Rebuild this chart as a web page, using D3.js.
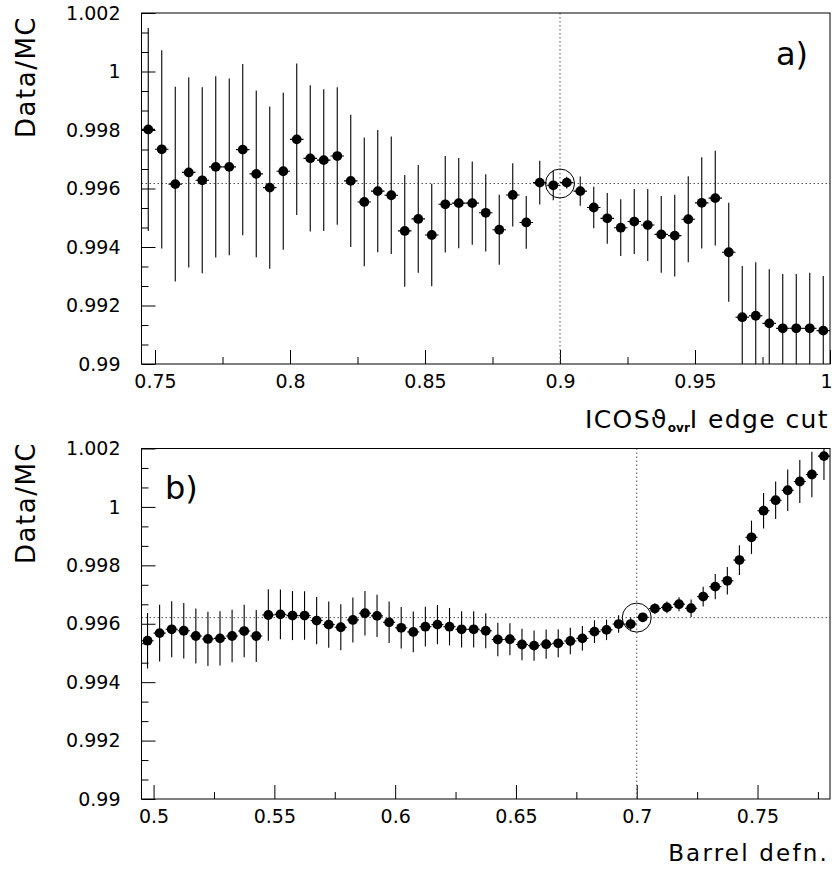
<!DOCTYPE html>
<html>
<head>
<meta charset="utf-8">
<script src="https://cdn.jsdelivr.net/npm/d3@7"></script>
<style>
  body { margin: 0; background: #fff; }
  svg { display: block; }
</style>
</head>
<body>
<svg id="chart" width="832" height="870"></svg>
<script>
// ---- panel a): Data/MC versus the |cos theta_ovr| edge cut ----
const edgeCut = [
  0.7475, 0.7525, 0.7575, 0.7625, 0.7675, 0.7725, 0.7775, 0.7825, 0.7875, 0.7925,
  0.7975, 0.8025, 0.8075, 0.8125, 0.8175, 0.8225, 0.8275, 0.8325, 0.8375, 0.8425,
  0.8475, 0.8525, 0.8575, 0.8625, 0.8675, 0.8725, 0.8775, 0.8825, 0.8875, 0.8925,
  0.8975, 0.9025, 0.9075, 0.9125, 0.9175, 0.9225, 0.9275, 0.9325, 0.9375, 0.9425,
  0.9475, 0.9525, 0.9575, 0.9625, 0.9675, 0.9725, 0.9775, 0.9825, 0.9875, 0.9925,
  0.9975
];
const edgeRatio = [
  0.99802, 0.99734, 0.99615, 0.99655, 0.99628, 0.99674, 0.99674, 0.99733, 0.99650, 0.99603,
  0.99659, 0.99768, 0.99703, 0.99697, 0.99711, 0.99626, 0.99554, 0.99591, 0.99577, 0.99455,
  0.99496, 0.99441, 0.99546, 0.99550, 0.99550, 0.99517, 0.99459, 0.99578, 0.99484, 0.99620,
  0.99611, 0.99620, 0.99591, 0.99535, 0.99498, 0.99466, 0.99487, 0.99475, 0.99443, 0.99439,
  0.99495, 0.99551, 0.99567, 0.99382, 0.99160, 0.99165, 0.99139, 0.99122, 0.99122, 0.99122,
  0.99114
];
const edgeErr = [
  0.00347, 0.00339, 0.00333, 0.00325, 0.00318, 0.00310, 0.00302, 0.00293, 0.00285, 0.00277,
  0.00268, 0.00259, 0.00250, 0.00242, 0.00235, 0.00226, 0.00220, 0.00209, 0.00201, 0.00191,
  0.00184, 0.00175, 0.00165, 0.00154, 0.00142, 0.00132, 0.00120, 0.00108, 0.00090, 0.00075,
  0.00051, 0.00020, 0.00050, 0.00071, 0.00087, 0.00097, 0.00111, 0.00123, 0.00131, 0.00140,
  0.00147, 0.00156, 0.00162, 0.00169, 0.00175, 0.00183, 0.00185, 0.00186, 0.00186, 0.00190,
  0.00187
];

// ---- panel b): Data/MC versus the barrel definition ----
const barrelDef = [
  0.4975, 0.5025, 0.5075, 0.5125, 0.5175, 0.5225, 0.5275, 0.5325, 0.5375, 0.5425,
  0.5475, 0.5525, 0.5575, 0.5625, 0.5675, 0.5725, 0.5775, 0.5825, 0.5875, 0.5925,
  0.5975, 0.6025, 0.6075, 0.6125, 0.6175, 0.6225, 0.6275, 0.6325, 0.6375, 0.6425,
  0.6475, 0.6525, 0.6575, 0.6625, 0.6675, 0.6725, 0.6775, 0.6825, 0.6875, 0.6925,
  0.6975, 0.7025, 0.7075, 0.7125, 0.7175, 0.7225, 0.7275, 0.7325, 0.7375, 0.7425,
  0.7475, 0.7525, 0.7575, 0.7625, 0.7675, 0.7725, 0.7775
];
const barrelRatio = [
  0.99542, 0.99568, 0.99581, 0.99576, 0.99558, 0.99548, 0.99550, 0.99558, 0.99575, 0.99558,
  0.99630, 0.99632, 0.99628, 0.99628, 0.99611, 0.99597, 0.99588, 0.99613, 0.99636, 0.99627,
  0.99605, 0.99586, 0.99572, 0.99590, 0.99597, 0.99590, 0.99581, 0.99581, 0.99576, 0.99546,
  0.99547, 0.99529, 0.99525, 0.99530, 0.99533, 0.99541, 0.99550, 0.99573, 0.99579, 0.99599,
  0.99599, 0.99622, 0.99652, 0.99656, 0.99667, 0.99653, 0.99693, 0.99727, 0.99747, 0.99818,
  0.99896, 0.99987, 1.00023, 1.00057, 1.00087, 1.00111, 1.00174
];
const barrelErr = [
  0.00095, 0.00097, 0.00096, 0.00095, 0.00094, 0.00093, 0.00093, 0.00090, 0.00090, 0.00089,
  0.00088, 0.00085, 0.00084, 0.00083, 0.00081, 0.00079, 0.00079, 0.00077, 0.00076, 0.00072,
  0.00071, 0.00071, 0.00070, 0.00068, 0.00067, 0.00064, 0.00062, 0.00062, 0.00060, 0.00057,
  0.00055, 0.00054, 0.00052, 0.00050, 0.00048, 0.00045, 0.00042, 0.00039, 0.00035, 0.00030,
  0.00022, 0.00015, 0.00018, 0.00020, 0.00024, 0.00030, 0.00034, 0.00043, 0.00047, 0.00051,
  0.00057, 0.00061, 0.00064, 0.00071, 0.00074, 0.00078, 0.00082
];

// ---- axes ----
const yTicks = [0.99, 0.992, 0.994, 0.996, 0.998, 1.0, 1.002];
const yTickLabels = ["0.99", "0.992", "0.994", "0.996", "0.998", "1", "1.002"];
const edgeTicks = [0.75, 0.8, 0.85, 0.9, 0.95, 1.0];
const edgeTickLabels = ["0.75", "0.8", "0.85", "0.9", "0.95", "1"];
const edgeMinor = [0.775, 0.825, 0.875, 0.925, 0.975];
const barrelTicks = [0.5, 0.55, 0.6, 0.65, 0.7, 0.75];
const barrelTickLabels = ["0.5", "0.55", "0.6", "0.65", "0.7", "0.75"];
const barrelMinor = [0.525, 0.575, 0.625, 0.675, 0.725, 0.775];

// chosen working points and the reference ratio
const edgeChosen = 0.9, edgeRef = 0.99617;
const barrelChosen = 0.7, barrelRef = 0.99621;
const binHalf = 0.0025;

const svg = d3.select("#chart");
const FONT = "'DejaVu Sans', sans-serif";
const LEFT = 141.5, RIGHT = 830;

// y minor ticks: three subdivisions per 0.002
const yMinor = d3.range(0, 19).filter(i => i % 3 !== 0).map(i => 0.99 + i * 0.002 / 3);

function drawPanel(p) {
  const x = d3.scaleLinear().domain(p.xDomain).range([LEFT, RIGHT]);
  const y = d3.scaleLinear().domain([0.99, 1.002]).range([p.bottom, p.top]);
  const g = svg.append("g");

  const clipId = "clip-" + p.id;
  svg.append("clipPath").attr("id", clipId)
    .append("rect")
    .attr("x", LEFT).attr("y", p.top)
    .attr("width", RIGHT - LEFT).attr("height", p.bottom - p.top);

  // y axis: minor and major ticks pointing inward
  g.append("g").attr("transform", `translate(${LEFT},0)`)
    .call(d3.axisLeft(y).tickValues(yMinor).tickSize(-7).tickFormat(""))
    .call(a => a.select(".domain").remove());
  const ya = g.append("g").attr("transform", `translate(${LEFT},0)`)
    .call(d3.axisLeft(y).tickValues(yTicks).tickSize(-14).tickPadding(21)
      .tickFormat((d, i) => yTickLabels[i]))
    .call(a => a.select(".domain").remove());
  ya.selectAll("text").attr("font-family", FONT).attr("font-size", 19).attr("fill", "#000");

  // x axis
  g.append("g").attr("transform", `translate(0,${p.bottom})`)
    .call(d3.axisBottom(x).tickValues(p.minor).tickSize(-7).tickFormat(""))
    .call(a => a.select(".domain").remove());
  const xa = g.append("g").attr("transform", `translate(0,${p.bottom})`)
    .call(d3.axisBottom(x).tickValues(p.ticks).tickSize(-14).tickPadding(11)
      .tickFormat((d, i) => p.tickLabels[i]))
    .call(a => a.select(".domain").remove());
  xa.selectAll("text").attr("font-family", FONT).attr("font-size", 19).attr("fill", "#000");
  // a label sitting on the right frame edge is kept inside the page
  xa.selectAll(".tick").filter(d => x(d) > RIGHT - 4)
    .select("text").attr("text-anchor", "end").attr("x", 2);
  g.selectAll(".tick line").attr("stroke", "#000");

  // reference lines through the chosen point
  const refG = g.append("g").attr("clip-path", `url(#${clipId})`)
    .attr("stroke", "#555").attr("stroke-width", 1).attr("stroke-dasharray", "1.5,2.5");
  refG.append("line")
    .attr("x1", LEFT).attr("x2", RIGHT)
    .attr("y1", y(p.ref)).attr("y2", y(p.ref));
  refG.append("line")
    .attr("x1", x(p.chosen)).attr("x2", x(p.chosen))
    .attr("y1", p.top).attr("y2", p.bottom);

  // data points with error bars
  const data = p.xs.map((v, i) => ({ x: v, y: p.ys[i], e: p.es[i] }));
  const pts = g.append("g").attr("clip-path", `url(#${clipId})`);
  pts.selectAll("line.ey").data(data).join("line")
    .attr("class", "ey")
    .attr("x1", d => x(d.x)).attr("x2", d => x(d.x))
    .attr("y1", d => y(d.y - d.e)).attr("y2", d => y(d.y + d.e))
    .attr("stroke", "#000").attr("stroke-width", 1.1);
  pts.selectAll("line.ex").data(data).join("line")
    .attr("class", "ex")
    .attr("x1", d => x(d.x - binHalf)).attr("x2", d => x(d.x + binHalf))
    .attr("y1", d => y(d.y)).attr("y2", d => y(d.y))
    .attr("stroke", "#000").attr("stroke-width", 1.1);
  pts.selectAll("circle").data(data).join("circle")
    .attr("cx", d => x(d.x)).attr("cy", d => y(d.y)).attr("r", 4.9)
    .attr("fill", "#000");

  // circle marking the chosen working point
  g.append("circle")
    .attr("cx", x(p.chosen)).attr("cy", y(p.ref)).attr("r", 14.5)
    .attr("fill", "none").attr("stroke", "#000").attr("stroke-width", 1);

  // frame
  g.append("rect")
    .attr("x", LEFT).attr("y", p.top)
    .attr("width", RIGHT - LEFT).attr("height", p.bottom - p.top)
    .attr("fill", "none").attr("stroke", "#000").attr("stroke-width", 1);

  // y title
  svg.append("text")
    .attr("transform", `translate(35,${p.yTitleEnd}) rotate(-90)`)
    .attr("text-anchor", "end")
    .attr("font-family", FONT).attr("font-size", 26).attr("letter-spacing", 1.5)
    .text("Data/MC");

  // panel tag
  svg.append("text")
    .attr("x", p.tagX).attr("y", p.tagY)
    .attr("font-family", FONT).attr("font-size", 32)
    .text(p.tag);

  return { x, y };
}

drawPanel({
  id: "a", top: 13, bottom: 364, xDomain: [0.745, 1.0],
  ticks: edgeTicks, tickLabels: edgeTickLabels, minor: edgeMinor,
  xs: edgeCut, ys: edgeRatio, es: edgeErr,
  chosen: edgeChosen, ref: edgeRef,
  yTitleEnd: 16, tag: "a)", tagX: 776, tagY: 65
});

drawPanel({
  id: "b", top: 448.5, bottom: 799, xDomain: [0.495, 0.78],
  ticks: barrelTicks, tickLabels: barrelTickLabels, minor: barrelMinor,
  xs: barrelDef, ys: barrelRatio, es: barrelErr,
  chosen: barrelChosen, ref: barrelRef,
  yTitleEnd: 442, tag: "b)", tagX: 165, tagY: 499
});

// x titles
const t1 = svg.append("text")
  .attr("x", 829).attr("y", 428).attr("text-anchor", "end")
  .attr("font-family", FONT).attr("font-size", 25).attr("letter-spacing", 1.4);
t1.append("tspan").text("ICOSϑ");
t1.append("tspan").attr("font-size", 12).attr("font-weight", "bold").attr("dy", 4).attr("letter-spacing", 0).text("ovr");
t1.append("tspan").attr("dy", -4).text("I edge cut");

svg.append("text")
  .attr("x", 829).attr("y", 861).attr("text-anchor", "end")
  .attr("font-family", FONT).attr("font-size", 23).attr("letter-spacing", 2.2)
  .text("Barrel defn.");
</script>
</body>
</html>
